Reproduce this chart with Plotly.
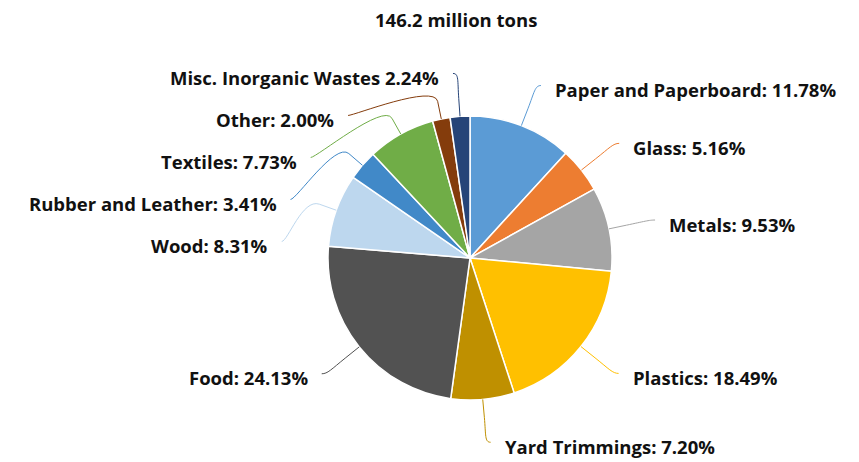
import math
import plotly.graph_objects as go

# ---------------- data ----------------
title_text = "146.2 million tons"
categories = ["Paper and Paperboard", "Glass", "Metals", "Plastics", "Yard Trimmings",
              "Food", "Wood", "Rubber and Leather", "Textiles", "Other",
              "Misc. Inorganic Wastes"]
values = [11.78, 5.16, 9.53, 18.49, 7.20, 24.13, 8.31, 3.41, 7.73, 2.00, 2.24]
separators = [": "] * 10 + [" "]
colors = ["#5B9BD5", "#ED7D31", "#A5A5A5", "#FFC000", "#BF9000",
          "#525252", "#BDD7EE", "#4189C8", "#70AD47", "#843C0C", "#264478"]

# ---------------- layout constants ----------------
W, H = 859, 462
CX, CY, R = 470, 258, 142
LABEL_R = 185
BREAK_R = 160
GAP = 42
FONT = "Open Sans"
FSIZE = 18.5


def px(x):
    return x / W


def py(y):
    return 1 - y / H


fig = go.Figure(go.Pie(
    labels=categories, values=values, sort=False, direction="clockwise",
    rotation=0, textinfo="none", hoverinfo="label+percent",
    marker=dict(colors=colors, line=dict(color="white", width=1.5)),
    domain=dict(x=[px(CX - R), px(CX + R)], y=[py(CY + R), py(CY - R)]),
    showlegend=False,
))

# label placement computed from slice angles
total = sum(values)
cum = 0
items = []
for i, v in enumerate(values):
    mid = (cum + v / 2) / total * 360
    cum += v
    th = math.radians(mid)
    side = 1 if math.sin(th) > 0 else -1
    ny = CY - LABEL_R * math.cos(th)
    items.append(dict(i=i, th=th, side=side, y=ny))

for s in (1, -1):
    grp = sorted([it for it in items if it["side"] == s], key=lambda d: d["y"])
    for k in range(1, len(grp)):
        if grp[k]["y"] < grp[k - 1]["y"] + GAP:
            grp[k]["y"] = grp[k - 1]["y"] + GAP

shapes = []
annotations = []
for it in items:
    i, th, s, ly = it["i"], it["th"], it["side"], it["y"]
    lx = CX + s * math.sqrt(max(LABEL_R ** 2 - (ly - CY) ** 2, 0))
    lx = lx + s * 4
    ex, ey = CX + R * math.sin(th), CY - R * math.cos(th)
    bx, by = CX + BREAK_R * math.sin(th), CY - BREAK_R * math.cos(th)
    c1x, c1y = lx - s * 6, ly
    c2x, c2y = 2 * bx - ex, 2 * by - ey
    path = (f"M {px(lx)},{py(ly)} C {px(c1x)},{py(c1y)} {px(c2x)},{py(c2y)} "
            f"{px(bx)},{py(by)} L {px(ex)},{py(ey)}")
    shapes.append(dict(type="path", path=path, xref="paper", yref="paper",
                       line=dict(color=colors[i], width=1)))
    annotations.append(dict(
        x=px(lx + s * 12), y=py(ly + 4), xref="paper", yref="paper",
        text=f"{categories[i]}{separators[i]}{values[i]:.2f}%",
        showarrow=False, xanchor="left" if s > 0 else "right", yanchor="middle",
        font=dict(family=FONT, size=FSIZE, color="#111111", weight=700)))

annotations.append(dict(
    x=px(456), y=py(20), xref="paper", yref="paper", text=title_text,
    showarrow=False, xanchor="center", yanchor="middle",
    font=dict(family=FONT, size=18.5, color="#111111", weight=700)))

fig.update_layout(
    width=W, height=H, margin=dict(l=0, r=0, t=0, b=0),
    paper_bgcolor="white", plot_bgcolor="white",
    shapes=shapes, annotations=annotations,
)

fig.write_html("out.html")
